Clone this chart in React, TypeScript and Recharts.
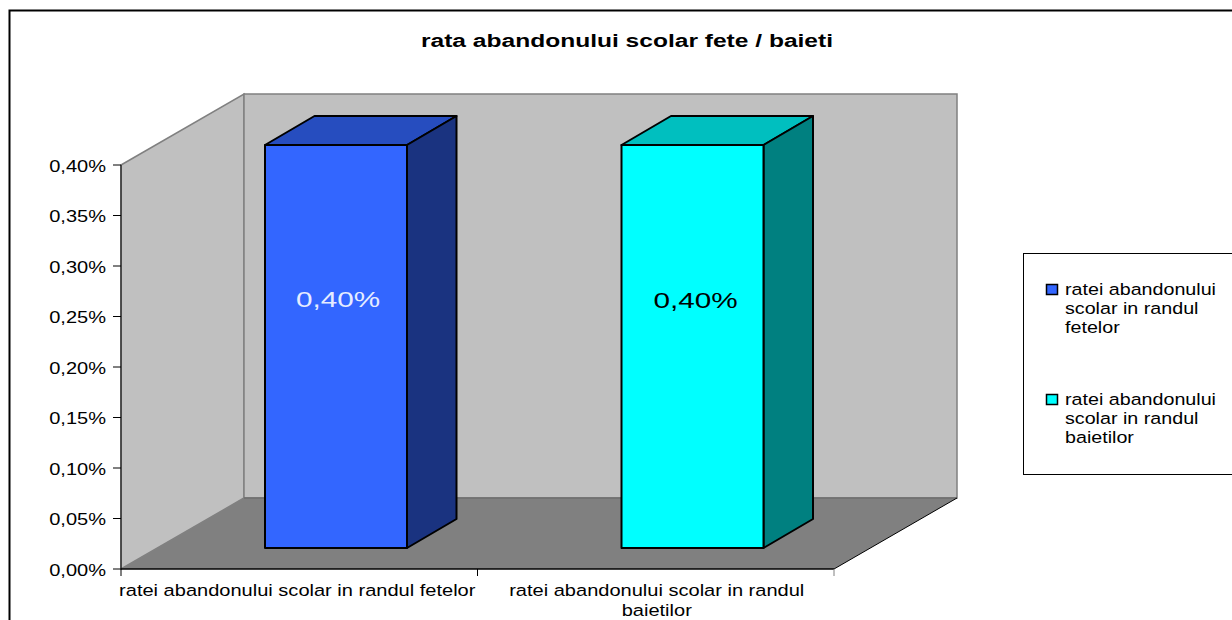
import { Bar, BarChart, LabelList, Legend, XAxis, YAxis } from "recharts"

const title = "rata abandonului scolar fete / baieti"
const categories = ["ratei abandonului scolar in randul fetelor", "ratei abandonului scolar in randul baietilor"]
const values = [0.4, 0.4]
const yTicks = [0, 0.05, 0.1, 0.15, 0.2, 0.25, 0.3, 0.35, 0.4]
const xLabelLines = [["ratei abandonului scolar in randul fetelor"], ["ratei abandonului scolar in randul", "baietilor"]]
const legendLines = [
  ["ratei abandonului", "scolar in randul", "fetelor"],
  ["ratei abandonului", "scolar in randul", "baietilor"],
]
const frontColors = ["#3366ff", "#00ffff"]
const topColors = ["#264dbf", "#00bfbf"]
const sideColors = ["#1a3380", "#008080"]
const labelColors = ["#e6ecff", "#000000"]

const data = categories.map((name, i) => ({ name, value: values[i] }))

const W = 1232
const H = 620
const PLOT = { left: 121, right: 834, top: 165, bottom: 569 }
const BAND = (PLOT.right - PLOT.left) / categories.length
const WALL_DX = 123
const WALL_DY = 71
const BAR_SHIFT_X = 37
const BAR_SHIFT_Y = 20
const BAR_DX = 49.5
const BAR_DY = 29
const FONT = "'Liberation Sans', Arial, sans-serif"

// the reference text is stretched sideways, so scale it on x
function Wide(props: any) {
  const { x, y, size = 16.5, sx = 1.215, anchor = "start", fill = "#000", weight = "normal", children } = props
  return (
    <text
      transform={`translate(${x},${y}) scale(${sx},1)`}
      textAnchor={anchor}
      fontFamily={FONT}
      fontSize={size}
      fontWeight={weight}
      fill={fill}
    >
      {children}
    </text>
  )
}

function Backdrop() {
  const { left, right, top, bottom } = PLOT
  const bx = left + WALL_DX
  const ex = right + WALL_DX
  const ty = top - WALL_DY
  const by = bottom - WALL_DY
  return (
    <g>
      <rect x={9.5} y={10.5} width={W + 50} height={H + 50} fill="#fff" stroke="#000" strokeWidth={2} />
      <Wide x={627} y={47} anchor="middle" weight="bold" size={18.5} sx={1.328}>
        {title}
      </Wide>
      <polygon points={`${left},${top} ${bx},${ty} ${bx},${by} ${left},${bottom}`} fill="#c0c0c0" stroke="#808080" strokeWidth={1.5} />
      <polygon points={`${bx},${ty} ${ex},${ty} ${ex},${by} ${bx},${by}`} fill="#c0c0c0" stroke="#808080" strokeWidth={1.5} />
      <polygon points={`${left},${bottom} ${bx},${by} ${ex},${by} ${right},${bottom}`} fill="#808080" />
      <line x1={bx} y1={by} x2={ex} y2={by} stroke="#6e6e6e" strokeWidth={1.5} />
      <line x1={right} y1={bottom} x2={ex} y2={by} stroke="#000" strokeWidth={1} />
    </g>
  )
}

function Bar3D(props: any) {
  const { x, y, width, height, index } = props
  const fx = x + BAR_SHIFT_X
  const fy = y - BAR_SHIFT_Y
  const fr = fx + width
  const fb = fy + height - 1
  return (
    <g stroke="#000" strokeWidth={2} strokeLinejoin="round">
      <polygon points={`${fx},${fy} ${fx + BAR_DX},${fy - BAR_DY} ${fr + BAR_DX},${fy - BAR_DY} ${fr},${fy}`} fill={topColors[index]} />
      <polygon points={`${fr},${fy} ${fr + BAR_DX},${fy - BAR_DY} ${fr + BAR_DX},${fb - BAR_DY} ${fr},${fb}`} fill={sideColors[index]} />
      <rect x={fx} y={fy} width={width} height={height - 1} fill={frontColors[index]} />
    </g>
  )
}

function BarValue(props: any) {
  const { x, y, width, index, value } = props
  return (
    <Wide x={x + width / 2 + BAR_SHIFT_X + 2 + index} y={y + 142 + index} anchor="middle" size={22} sx={1.35} fill={labelColors[index]}>
      {value.toFixed(2).replace(".", ",") + "%"}
    </Wide>
  )
}

function YTick(props: any) {
  const { x, y, payload } = props
  return (
    <Wide x={x} y={y + 6.5} anchor="end">
      {payload.value.toFixed(2).replace(".", ",") + "%"}
    </Wide>
  )
}

// ticks sit on the category boundaries, not under the bars
function XTick(props: any) {
  const { x, index } = props
  const edge = x - BAND / 2
  return (
    <g>
      <line x1={edge} y1={PLOT.bottom} x2={edge} y2={PLOT.bottom + 7} stroke="#000" />
      {index === categories.length - 1 && (
        <line x1={edge + BAND} y1={PLOT.bottom} x2={edge + BAND} y2={PLOT.bottom + 7} stroke="#808080" />
      )}
      {xLabelLines[index].map((line, i) => (
        <Wide key={line} x={x - 2 + index * 3} y={PLOT.bottom + 27 + i * 20} anchor="middle">
          {line}
        </Wide>
      ))}
    </g>
  )
}

function ChartLegend() {
  return (
    <svg width={209} height={222} style={{ display: "block" }}>
      <rect x={0.5} y={0.5} width={260} height={221} fill="#fff" stroke="#000" />
      {legendLines.map((lines, i) => (
        <g key={i}>
          <rect x={23.5} y={31.5 + i * 110} width={11} height={10} fill={frontColors[i]} stroke="#000" strokeWidth={1.5} />
          {lines.map((line, j) => (
            <Wide key={line} x={42} y={41.5 + i * 110 + j * 19} sx={1.193}>
              {line}
            </Wide>
          ))}
        </g>
      ))}
    </svg>
  )
}

export default function App() {
  return (
    <div style={{ position: "fixed", left: 0, top: 0, width: W, height: H, overflow: "hidden" }}>
      <BarChart
        width={W}
        height={H}
        data={data}
        margin={{ left: 0, top: PLOT.top, right: W - PLOT.right, bottom: 0 }}
      >
        <Backdrop />
        <XAxis
          dataKey="name"
          height={H - PLOT.bottom}
          interval={0}
          tick={<XTick />}
          tickLine={false}
          axisLine={{ stroke: "#000", strokeWidth: 1.5 }}
        />
        <YAxis
          width={PLOT.left}
          domain={[0, 0.4]}
          ticks={yTicks}
          interval={0}
          tick={<YTick />}
          tickSize={8}
          tickMargin={7}
          tickLine={{ stroke: "#000" }}
          axisLine={{ stroke: "#000" }}
        />
        <Legend
          layout="vertical"
          align="center"
          verticalAlign="middle"
          content={<ChartLegend />}
          wrapperStyle={{ left: 1023, top: 253, width: 209, height: 222 }}
        />
        <Bar dataKey="value" barSize={142} shape={<Bar3D />} isAnimationActive={false}>
          <LabelList dataKey="value" content={<BarValue />} />
        </Bar>
      </BarChart>
    </div>
  )
}
